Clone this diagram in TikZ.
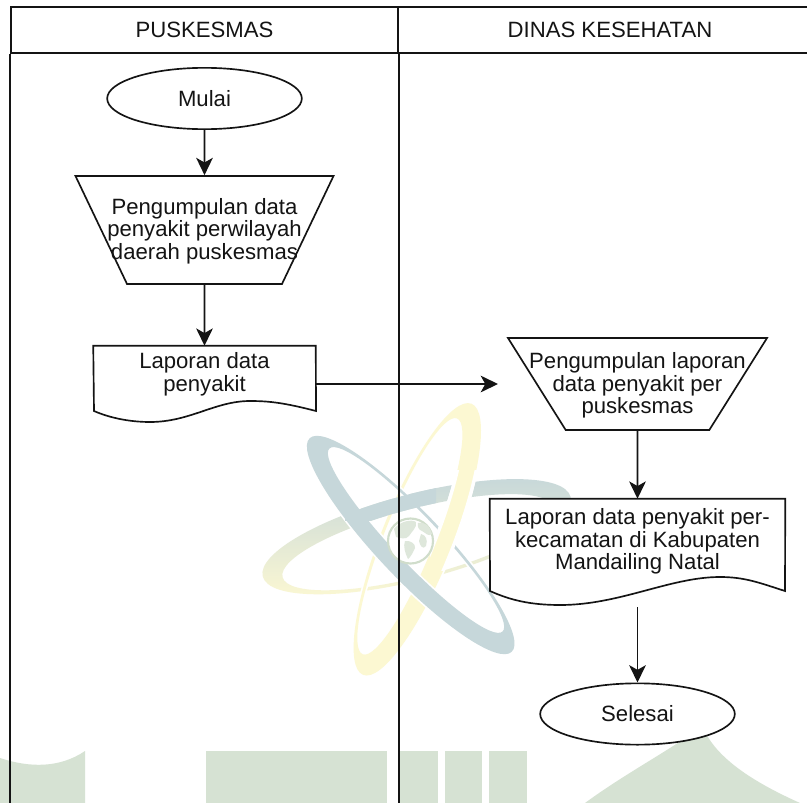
\documentclass[tikz,border=0pt]{standalone}
\usepackage{fontspec}
\setmainfont{Liberation Sans}
\usetikzlibrary{arrows.meta,shapes.geometric}
\definecolor{wteal}{HTML}{C6D7DA}
\definecolor{wyell}{HTML}{FCF8D2}
\definecolor{wgreen}{HTML}{D6E2D3}
\definecolor{wglobe}{HTML}{D0DDCB}
\definecolor{ink}{HTML}{141414}
\newcommand{\ringpath}[9]{[shift={(#1,#2)},rotate=#3] (0,0) ellipse [x radius=#4, y radius=#5] (#6,#7) ellipse [x radius=#8, y radius=#9]}
\newcommand{\ringC}{\ringpath{416.7}{536.7}{14.5}{159}{43}{0}{5.7}{140}{34}}
\newcommand{\ringY}{\ringpath{417.3}{539.3}{68.2}{146}{36}{0}{-8}{127}{25}}
\newcommand{\ringA}{\ringpath{410.7}{545}{-46.6}{147}{33}{0}{-7.3}{126}{23}}
\tikzset{
  lane/.style={draw=ink,line width=1.3pt,inner sep=0pt,minimum height=34.5pt},
  lbl/.style={text=ink,font=\fontsize{16.6}{17}\selectfont,align=center,inner sep=0pt},
  term/.style={ellipse,draw=ink,fill=white,line width=1.25pt,inner sep=0pt,minimum width=146pt,minimum height=46pt},
  input/.style={trapezium,draw=ink,fill=white,line width=1.25pt,inner sep=0pt,shape border rotate=180,trapezium stretches=true},
  docbox/.style={inner sep=0pt},
  docline/.style={draw=ink,fill=white,line width=1.25pt},
  flow/.style={draw=ink,line width=1.3pt,-{Stealth[length=13pt,width=12.5pt,inset=3.5pt]}},
}
\begin{document}
\begin{tikzpicture}[x=0.75pt,y=-0.75pt]
\useasboundingbox (0,0) rectangle (807,803);
\fill[white] (0,0) rectangle (807,803);
% building silhouette
\fill[wgreen] (0,758) .. controls (30,768) and (60,768) .. (85,751) -- (85,803) -- (0,803) -- cycle;
\fill[wgreen] (206,751) rectangle (387,803);
\fill[wgreen] (398,751) rectangle (438,803);
\fill[wgreen] (445,751) rectangle (482,803);
\fill[wgreen] (489,751) rectangle (527,803);
\fill[wgreen] (585,803) .. controls (630,770) and (680,745) .. (702,725) .. controls (715,760) and (760,785) .. (800,803) -- cycle;
% atom watermark
\shade[top color=wteal,middle color=wteal,bottom color=wyell,even odd rule] \ringC;
\draw[white,line width=2.5pt,fill=wyell,even odd rule] \ringY;
\fill[wyell,even odd rule] \ringY;
\draw[white,line width=2.5pt,fill=wteal,even odd rule] \ringA;
\fill[wteal,even odd rule] \ringA;
\begin{scope}
  \clip (430,470) rectangle (520,570);
  \draw[white,line width=2.5pt,fill=wyell,even odd rule] \ringY;
\end{scope}
\begin{scope}
  \clip (345,480) rectangle (436,520);
  \shade[top color=wteal,middle color=wteal,bottom color=wteal,even odd rule] \ringC;
\end{scope}
\draw[wglobe,line width=1.6pt,fill=white] (410.5,541) circle [radius=22.5];
\fill[wglobe!70!white] (394,529) .. controls (400,521) and (412,519) .. (416,522) .. controls (417,528) and (412,531) .. (409,536) .. controls (406,540) and (400,538) .. (396,537) -- cycle;
\fill[wglobe!70!white] (405,541) .. controls (410,540) and (416,544) .. (415,548) .. controls (413,552) and (411,557) .. (408,559) .. controls (405,553) and (403,546) .. (405,541) -- cycle;
\fill[wglobe!70!white] (418,523) .. controls (424,521) and (430,526) .. (432,534) .. controls (428,537) and (426,533) .. (422,531) .. controls (419,530) and (417,527) .. (418,523) -- cycle;
\fill[wglobe!70!white] (421,534) .. controls (426,535) and (428,540) .. (426,546) .. controls (423,550) and (420,546) .. (419,541) -- cycle;
% lanes
\node[lane,minimum width=290.25pt] (headA) at (204.5,30) {};
\node[lane,minimum width=318pt] (headB) at (610,30) {};
\draw[ink,line width=1.3pt] (headA.south west) -- ++(0,780);
\draw[ink,line width=1.3pt] (headA.south east) -- ++(0,780);
\node[lbl] (titleA) at (204.5,29.5) {PUSKESMAS};
\node[lbl] (titleB) at (610,29.5) {DINAS KESEHATAN};
% left column
\node[term,lbl] (mulai) at (204.5,98.5) {Mulai};
\node[input,minimum width=193.5pt,minimum height=81pt,trapezium left angle=71.6,trapezium right angle=71.6] (trapA) at (204.5,230) {\phantom{\rule{1pt}{1pt}}};
\node[lbl] (trapAt) at (204.5,231) {Pengumpulan data\\penyakit perwilayah\\daerah puskesmas};
\node[docbox,minimum width=166.5pt,minimum height=57pt] (docA) at (204.5,384) {};
\path[docline] (docA.north west) -- (docA.north east) -- (316,411) .. controls (285,403) and (270,401) .. (250,401) .. controls (215,401) and (190,422) .. (150,422) .. controls (130,422) and (110,418) .. (94,411) -- cycle;
\node[lbl] (docAt) at (204.5,374.5) {Laporan data\\penyakit};
% right column
\node[input,minimum width=194.25pt,minimum height=69pt,trapezium left angle=68.1,trapezium right angle=68.1] (trapB) at (637.5,384) {\phantom{\rule{1pt}{1pt}}};
\node[lbl] (trapBt) at (637.5,385.5) {Pengumpulan laporan\\data penyakit per\\puskesmas};
\node[docbox,minimum width=221.25pt,minimum height=79.5pt] (docB) at (637.5,552) {};
\path[docline] (docB.north west) -- (docB.north east) -- (785,591) .. controls (760,583) and (745,577) .. (720,577) .. controls (670,577) and (620,605) .. (560,605) .. controls (530,605) and (510,600) .. (490,591) -- cycle;
\node[lbl] (docBt) at (637.5,541.5) {Laporan data penyakit per-\\kecamatan di Kabupaten\\Mandailing Natal};
\node[term,lbl] (selesai) at (637.5,714) {Selesai};
\coordinate (flowEnd) at (498,384);
% connectors
\draw[flow] (mulai.south) -- (trapA.north);
\draw[flow] (trapA.south) -- (docA.north);
\draw[flow] (docA.east) -- (flowEnd);
\draw[flow] (trapB.south) -- (docB.north);
\draw[flow] (docB.south) ++(0,2) -- (selesai.north);
\end{tikzpicture}
\end{document}
